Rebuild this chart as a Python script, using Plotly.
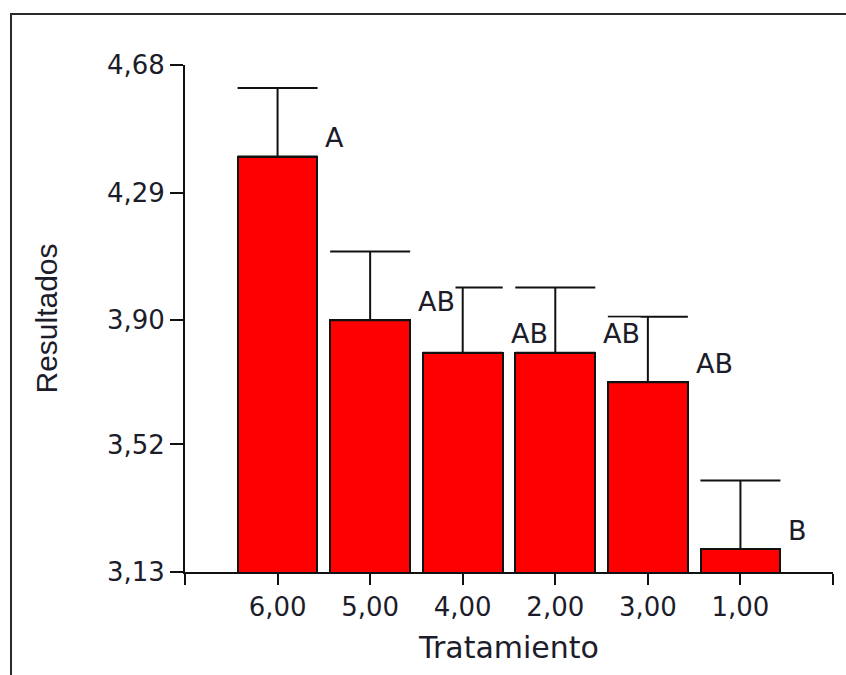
import plotly.graph_objects as go

# Treatment groups in plotted order, with mean, standard error and Tukey letter
tratamientos = ["6,00", "5,00", "4,00", "2,00", "3,00", "1,00"]
medias = [4.40, 3.90, 3.80, 3.80, 3.71, 3.20]
errores = [0.21, 0.21, 0.20, 0.20, 0.20, 0.21]
letras = ["A", "AB", "AB", "AB", "AB", "B"]

# Y axis ticks
y_ticks = [3.13, 3.52, 3.90, 4.29, 4.68]
y_tick_text = ["3,13", "3,52", "3,90", "4,29", "4,68"]

BAR_WIDTH = 0.86
TICK_FONT = dict(family="DejaVu Sans", size=26, color="#1c1c2a")
TITLE_FONT_H = dict(family="DejaVu Sans", size=30, color="#1c1c2a")
TITLE_FONT_V = dict(family="Liberation Sans, Arial", size=30, color="#1c1c2a")
LETTER_FONT = dict(family="DejaVu Sans", size=27, color="#1c1c2a")

pos = list(range(len(tratamientos)))

fig = go.Figure()
fig.add_trace(go.Bar(
    x=pos,
    y=medias,
    width=BAR_WIDTH,
    marker=dict(color="#ff0000", line=dict(color="#111111", width=2)),
    error_y=dict(
        type="data",
        symmetric=False,
        array=errores,
        arrayminus=[0] * len(errores),
        color="#111111",
        thickness=2,
        width=40,
    ),
    showlegend=False,
))

# Significance letters beside each bar (white box hides the cap underneath)
for i, (m, letra) in enumerate(zip(medias, letras)):
    fig.add_annotation(
        x=i + BAR_WIDTH / 2, y=m,
        xref="x", yref="y",
        text=letra,
        showarrow=False,
        xanchor="left", yanchor="middle",
        xshift=7, yshift=19,
        font=LETTER_FONT,
        bgcolor="white",
        borderpad=0,
    )

# Outer frame
fig.add_shape(
    type="rect", xref="paper", yref="paper",
    x0=-0.2685, x1=1.3, y0=-0.4, y1=1.1006,
    line=dict(color="#2a2a2a", width=2),
    fillcolor="rgba(0,0,0,0)",
    layer="below",
)

fig.update_layout(
    width=846, height=675,
    margin=dict(l=185, r=13, t=65, b=103),
    paper_bgcolor="white",
    plot_bgcolor="white",
    bargap=0,
    xaxis=dict(
        range=[-1, 6],
        tickmode="array",
        tickvals=[-1] + pos + [6],
        ticktext=[""] + tratamientos + [""],
        ticks="outside", ticklen=11, tickwidth=2, tickcolor="#111111",
        showline=True, linecolor="#111111", linewidth=2,
        showgrid=False, zeroline=False,
        tickfont=TICK_FONT,
        title=dict(text="Tratamiento", font=TITLE_FONT_H, standoff=16),
    ),
    yaxis=dict(
        range=[3.13, 4.68],
        tickmode="array",
        tickvals=y_ticks,
        ticktext=y_tick_text,
        ticks="outside", ticklen=13, tickwidth=2, tickcolor="#111111",
        showline=True, linecolor="#111111", linewidth=2,
        showgrid=False, zeroline=False,
        tickfont=TICK_FONT,
        title=dict(text="Resultados", font=TITLE_FONT_V, standoff=40),
    ),
)

fig.write_html("out.html")
